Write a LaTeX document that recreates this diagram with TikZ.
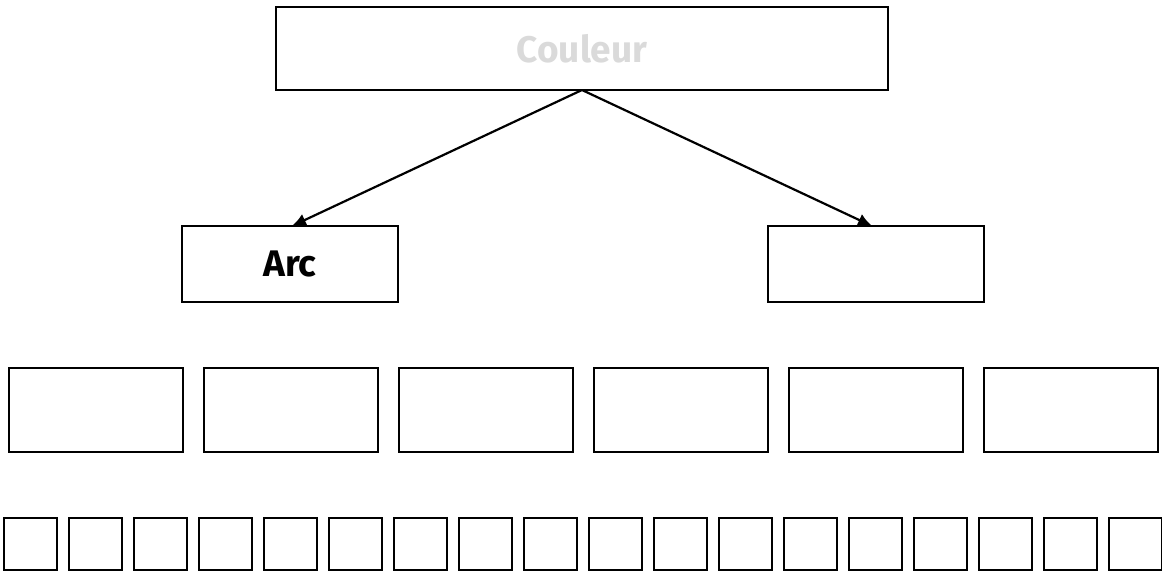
\documentclass[tikz,border=0pt]{standalone}
\usepackage{fontspec}
\setmainfont{Fira Sans}
\usetikzlibrary{arrows.meta}
\definecolor{lightgrey}{HTML}{DADADA}
\begin{document}
\begin{tikzpicture}[x=1pt,y=-1pt,
  box/.style={draw=black, line width=2.6pt, fill=white, inner sep=0pt, outer sep=0pt, font=\fontsize{37}{44}\selectfont\bfseries},
  conn/.style={line width=2.2pt, -{Latex[length=14pt,width=13pt]}}]
\useasboundingbox (0,0) rectangle (1162,571);
\node[box, minimum width=612pt, minimum height=83pt, text=lightgrey] (top) at (582,48.5) {Couleur};
\node[box, minimum width=216pt, minimum height=76pt] (arc) at (290,264) {Arc};
\node[box, minimum width=216pt, minimum height=76pt] (right) at (876,264) {};
\foreach \i in {0,...,5} {
  \node[box, minimum width=174pt, minimum height=84pt] (m\i) at ({96+195*\i},410) {};
}
\foreach \i in {0,...,17} {
  \node[box, minimum width=53pt, minimum height=52pt] (s\i) at ({30.5+65*\i},544) {};
}
\draw[conn] (top.south) -- ([xshift=2pt]arc.north);
\draw[conn] (top.south) -- ([xshift=-4pt]right.north);
\end{tikzpicture}
\end{document}
